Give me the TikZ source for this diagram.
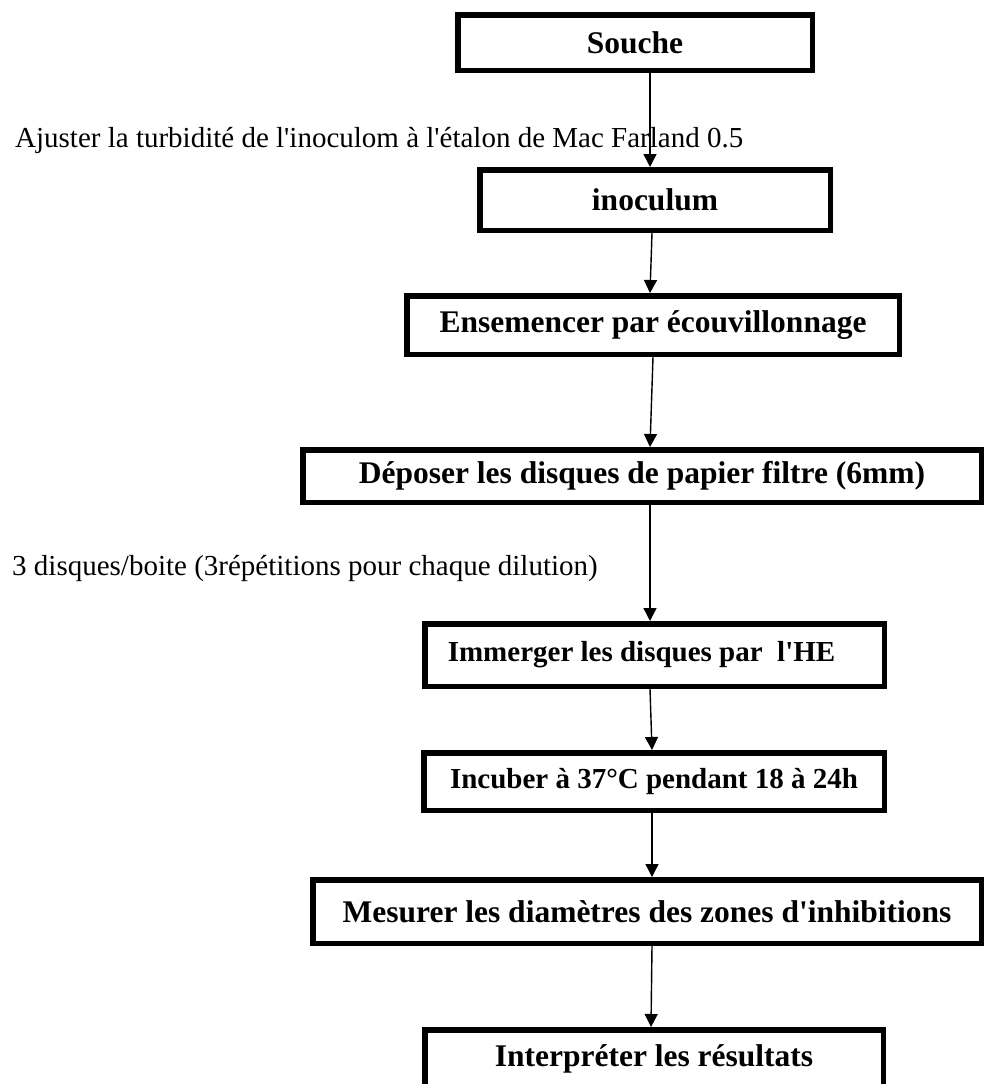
\documentclass[tikz,border=0pt]{standalone}
\usepackage{fontspec}
\newfontfamily\tnr{Liberation Serif}
\usetikzlibrary{arrows.meta}
\begin{document}
\begin{tikzpicture}[x=1pt,y=-1pt,
  box/.style={draw=black,line width=5.5pt,inner sep=0pt,font=\tnr\bfseries\fontsize{31.5}{36}\selectfont},
  smallbox/.style={box,font=\tnr\bfseries\fontsize{29}{34}\selectfont},
  lbl/.style={inner sep=0pt,font=\tnr\fontsize{29}{34}\selectfont},
  arr/.style={line width=1.4pt,-{Triangle[length=13pt,width=13pt]}}]
\useasboundingbox (0,0) rectangle (986,1084);
\clip (0,0) rectangle (986,1084);

\node[box,minimum width=354.5pt,minimum height=55.5pt] (souche) at (635,42.5) {Souche};
\node[box,minimum width=350.5pt,minimum height=60.5pt] (inoc) at (655,200) {inoculum};
\node[box,minimum width=492.5pt,minimum height=58.5pt] (ens) at (653,325) {Ensemencer par écouvillonnage};
\node[box,minimum width=678.5pt,minimum height=52.5pt] (dep) at (642,476) {Déposer les disques de papier filtre (6mm)};
\node[smallbox,minimum width=459.5pt,minimum height=62.5pt] (imm) at (654.5,655) {Immerger les disques par~~l'HE\hspace*{26pt}};
\node[smallbox,minimum width=460.5pt,minimum height=57.5pt] (inc) at (654,781.5) {Incuber à 37°C pendant 18 à 24h};
\node[box,minimum width=668.5pt,minimum height=63.5pt] (mes) at (647,911.5) {Mesurer les diamètres des zones d'inhibitions};
\node[box,minimum width=458.5pt,minimum height=58.5pt] (interp) at (654,1059) {Interpréter les résultats};

\node[lbl,anchor=base west] (l1) at (15,147) {Ajuster la turbidité de l'inoculom à l'étalon de Mac Farland 0.5};
\node[lbl,anchor=base west] (l2) at (12,575) {3 disques/boite (3répétitions pour chaque dilution)};

\draw[arr] (650,0 |- souche.south) -- (650,0 |- inoc.north);
\draw[arr] (652,0 |- inoc.south) -- (650,0 |- ens.north);
\draw[arr] (653,0 |- ens.south) -- (650,0 |- dep.north);
\draw[arr] (650,0 |- dep.south) -- (650,0 |- imm.north);
\draw[arr] (650,0 |- imm.south) -- (652,0 |- inc.north);
\draw[arr] (652,0 |- inc.south) -- (652,0 |- mes.north);
\draw[arr] (652,0 |- mes.south) -- (651,0 |- interp.north);
\end{tikzpicture}
\end{document}
